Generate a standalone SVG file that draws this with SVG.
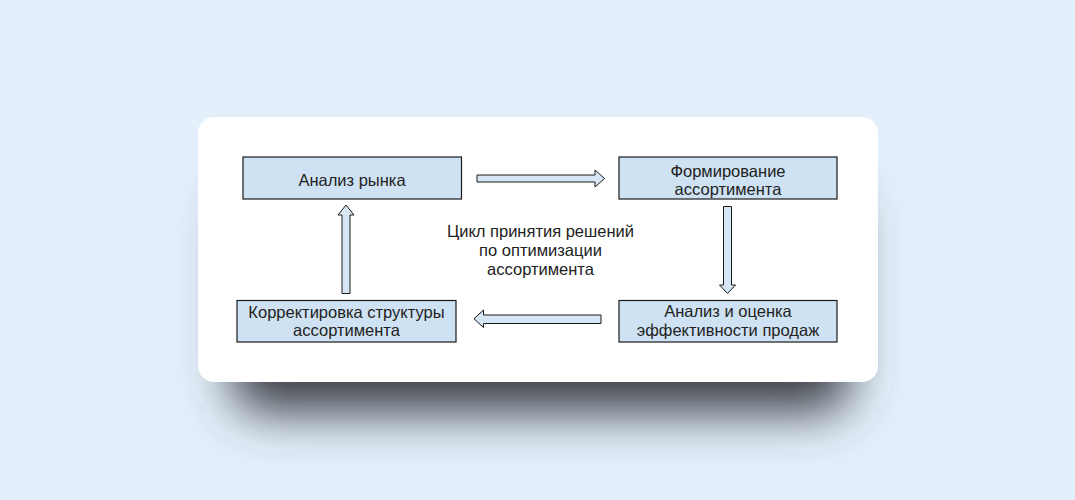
<svg xmlns="http://www.w3.org/2000/svg" width="1075" height="500" viewBox="0 0 1075 500">
  <defs>
    <filter id="shadowBlur" x="-20%" y="-40%" width="140%" height="180%">
      <feGaussianBlur stdDeviation="25"/>
    </filter>
    <style>
      .box { fill: #cfe2f3; stroke: #1a1a1a; stroke-width: 1.2; }
      .label { font-family: "Liberation Sans", Arial, sans-serif; font-size: 16.5px; fill: #222222; text-anchor: middle; }
      .conn { fill: #d6e6f5; stroke: #1a1a1a; stroke-width: 1; stroke-linejoin: miter; }
    </style>
  </defs>
  <rect x="0" y="0" width="1075" height="500" fill="#e3effb"/>
  <g id="card">
    <rect x="232" y="190" width="618" height="222" rx="30" fill="#3a3e44" filter="url(#shadowBlur)"/>
    <rect x="198" y="117" width="680" height="265" rx="16" fill="#ffffff"/>
  </g>
  <g id="connectors">
    <path class="conn" d="M477,175 H595 V170 L604.5,178.5 L595,187 V182 H477 Z"/>
    <path class="conn" d="M723.5,206.5 H731.5 V285 H735.5 L727.5,293.5 L719.5,285 H723.5 Z"/>
    <path class="conn" d="M601,315 H483.5 V310 L474,318.8 L483.5,327.5 V323.5 H601 Z"/>
    <path class="conn" d="M342,293.5 V215 H338 L346,205 L354,215 H350 V293.5 Z"/>
  </g>
  <g id="node-market">
    <rect class="box" x="243" y="157" width="218.5" height="42"/>
    <text class="label" x="352" y="185.5">Анализ рынка</text>
  </g>
  <g id="node-forming">
    <rect class="box" x="619" y="157" width="218" height="42"/>
    <text class="label" x="728" y="176.5">Формирование</text>
    <text class="label" x="728" y="194.5">ассортимента</text>
  </g>
  <g id="node-evaluation">
    <rect class="box" x="619" y="300.5" width="218" height="41.5"/>
    <text class="label" x="728" y="317">Анализ и оценка</text>
    <text class="label" x="728" y="335.5">эффективности продаж</text>
  </g>
  <g id="node-correction">
    <rect class="box" x="237" y="300.5" width="219" height="41.5"/>
    <text class="label" x="346.5" y="317.5">Корректировка структуры</text>
    <text class="label" x="346.5" y="336">ассортимента</text>
  </g>
  <g id="center-label">
    <text class="label" x="540.5" y="236.5">Цикл принятия решений</text>
    <text class="label" x="540.5" y="255.5">по оптимизации</text>
    <text class="label" x="540.5" y="274.5">ассортимента</text>
  </g>
</svg>
